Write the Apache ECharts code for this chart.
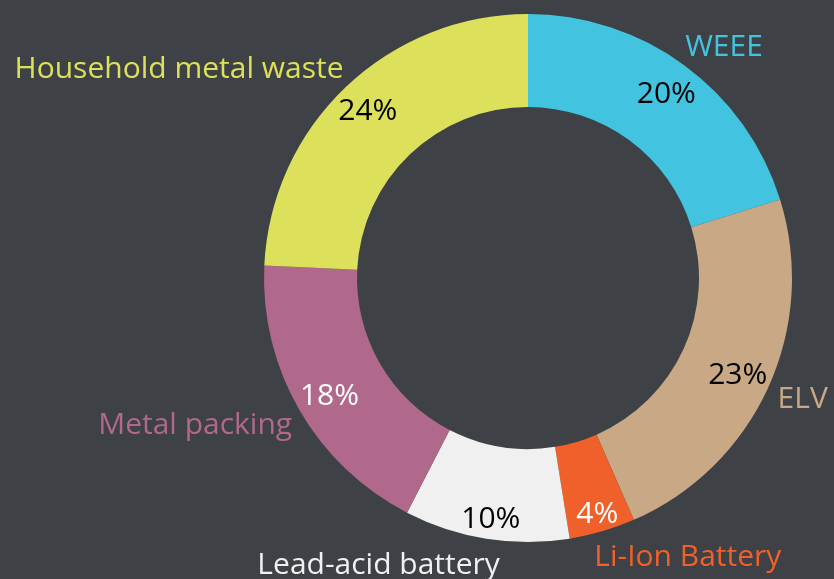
<!DOCTYPE html>
<html lang="en">
  <head>
    <meta charset="UTF-8" />
    <title>Metal waste</title>
    <script src="https://cdn.jsdelivr.net/npm/echarts@6/dist/echarts.min.js"></script>
    <style>
      html, body { margin: 0; padding: 0; background: #3e4145; }
    </style>
  </head>
  <body>
    <div id="main" style="width: 834px; height: 579px"></div>
    <script type="text/javascript">
      const categories = ["WEEE", "ELV", "Li-Ion Battery", "Lead-acid battery", "Metal packing", "Household metal waste"];
      const shares = [20, 23, 4, 10, 18, 24];
      const colors = ["#42c4e0", "#c9a885", "#f0602b", "#f0f0f0", "#b0698b", "#dde05a"];
      const pctColors = ["#000", "#000", "#fff", "#000", "#fff", "#000"];
      // small nudges for the labels (name labels, then percent labels)
      const nameShift = [[-21, 5], [-21, 0], [-21, -1], [23, -1], [22, 1], [22, 3]];
      const pctShift = [[-1, 6], [-4, 0], [3, 11], [0, 9], [5, 1], [2, 4]];

      let myChart = echarts.init(document.getElementById("main"));

      const ringData = categories.map((name, i) => ({
        name: name,
        value: shares[i],
        itemStyle: { color: colors[i] },
        label: { color: colors[i] },
      }));
      const pctData = categories.map((name, i) => ({
        name: name,
        value: shares[i],
        label: { color: pctColors[i] },
      }));

      let options = {
        backgroundColor: "#3e4145",
        animation: false,
        series: [
          {
            type: "pie",
            center: [528, 278],
            radius: [171, 264],
            startAngle: 90,
            silent: true,
            avoidLabelOverlap: false,
            itemStyle: { borderWidth: 0 },
            label: {
              show: true,
              position: "outside",
              formatter: "{b}",
              fontFamily: "Open Sans",
              fontSize: 30,
              overflow: "none",
            },
            labelLine: { show: false, length: 28, length2: 0 },
            labelLayout: (p) => ({ dx: nameShift[p.dataIndex][0], dy: nameShift[p.dataIndex][1] }),
            data: ringData,
          },
          {
            type: "pie",
            center: [528, 278],
            radius: [200, 264],
            startAngle: 90,
            silent: true,
            itemStyle: { color: "transparent" },
            label: {
              show: true,
              position: "inside",
              formatter: "{c}%",
              fontFamily: "Open Sans",
              fontSize: 30,
            },
            labelLine: { show: false },
            labelLayout: (p) => ({ dx: pctShift[p.dataIndex][0], dy: pctShift[p.dataIndex][1] }),
            data: pctData,
          },
        ],
      };

      myChart.setOption(options);
    </script>
  </body>
</html>
